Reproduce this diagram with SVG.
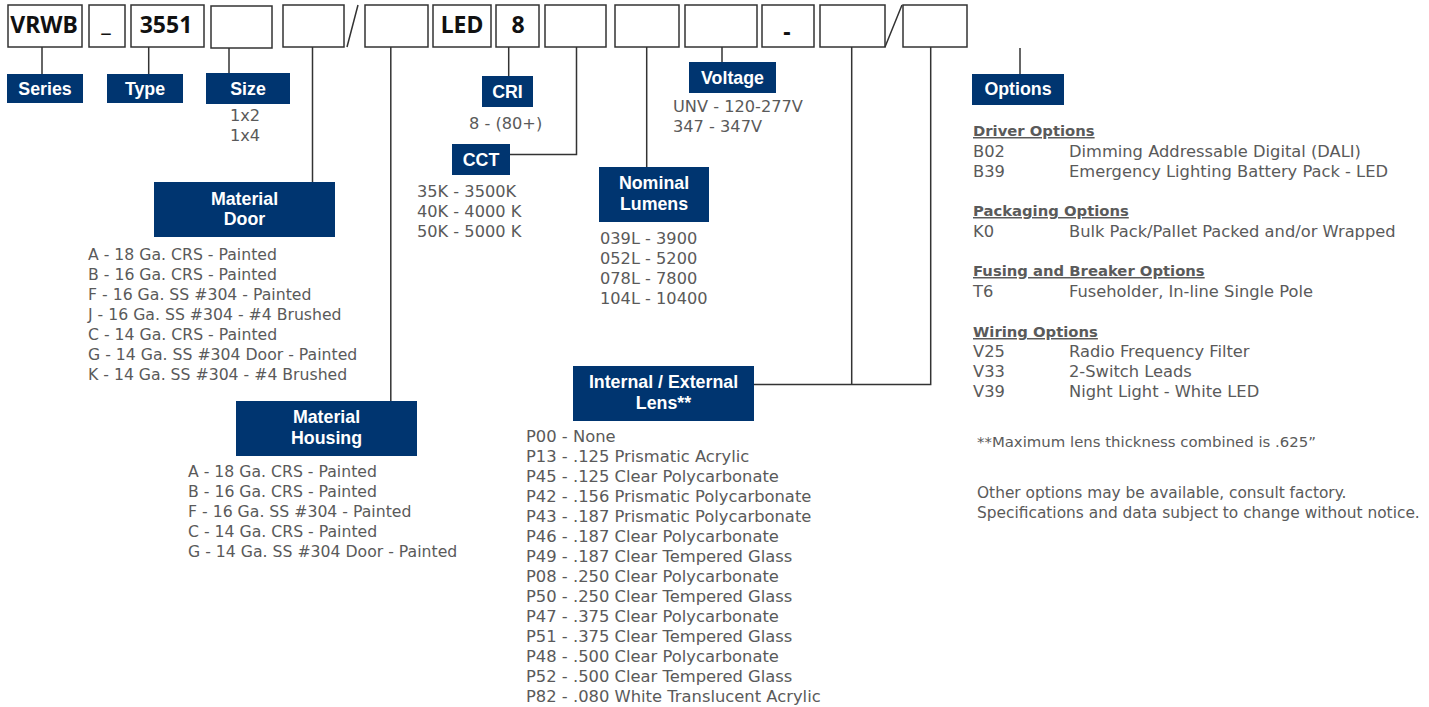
<svg xmlns="http://www.w3.org/2000/svg" width="1429" height="707" viewBox="0 0 1429 707">
<style>
.code{fill:#fff;stroke:#333;stroke-width:1.5}
.ct{font-family:"Noto Sans","DejaVu Sans",sans-serif;font-weight:bold;font-size:23px;fill:#111;text-anchor:middle}
.lab{fill:#003570}
.lt{font-family:"Liberation Sans",Arial,sans-serif;font-weight:bold;font-size:17.8px;fill:#fff;text-anchor:middle}
.li{font-family:"DejaVu Sans",sans-serif;font-size:15.7px;fill:#5a5a5a}
.ln{font-family:"DejaVu Sans",sans-serif;font-size:16.2px;fill:#5a5a5a}
.lz{font-family:"DejaVu Sans",sans-serif;font-size:16.35px;fill:#5a5a5a}
.op{font-family:"DejaVu Sans",sans-serif;font-size:16.3px;fill:#5a5a5a}
.oh{font-family:"DejaVu Sans",sans-serif;font-size:14.8px;font-weight:bold;fill:#5a5a5a;text-decoration:underline}
.fn{font-family:"DejaVu Sans",sans-serif;font-size:14.9px;fill:#5a5a5a}
.fm{font-family:"DejaVu Sans",sans-serif;font-size:15.4px;fill:#5a5a5a}
.cn{fill:none;stroke:#333;stroke-width:1.5}
</style>
<rect width="1429" height="707" fill="#fff"/>
<g id="code-boxes">
<rect class="code" x="8" y="5" width="74" height="42"/><text class="ct" x="44" y="33">VRWB</text>
<rect class="code" x="89" y="5" width="36" height="42"/><text class="ct" x="106" y="31">_</text>
<rect class="code" x="131" y="5" width="73" height="42"/><text class="ct" x="166" y="33">3551</text>
<rect class="code" x="211" y="6" width="61" height="42"/>
<rect class="code" x="283" y="5" width="61" height="42"/>
<rect class="code" x="365" y="5" width="63" height="42"/>
<rect class="code" x="433" y="5" width="58" height="42"/><text class="ct" x="462" y="33">LED</text>
<rect class="code" x="496" y="5" width="43" height="42"/><text class="ct" x="518" y="33">8</text>
<rect class="code" x="762" y="5" width="52" height="42"/><text class="ct" x="787" y="40">-</text>
<rect class="code" x="545" y="5" width="61" height="42"/>
<rect class="code" x="615" y="5" width="64" height="42"/>
<rect class="code" x="685" y="5" width="72" height="42"/>
<rect class="code" x="820" y="5" width="65" height="42"/>
<rect class="code" x="903" y="5" width="64" height="42"/>
<path class="cn" d="M347,47 L358,5 M885,47 L902,5"/>
</g>
<g id="connectors">
<path class="cn" d="M42,47 V74"/>
<path class="cn" d="M148.7,47 V74"/>
<path class="cn" d="M229,48 V73"/>
<path class="cn" d="M312.5,47 V182"/>
<path class="cn" d="M390.8,47 V401"/>
<path class="cn" d="M508.7,47 V76"/>
<path class="cn" d="M576.5,47 V154.5 H510"/>
<path class="cn" d="M646.7,47 V167"/>
<path class="cn" d="M722,47 V62"/>
<path class="cn" d="M851.7,47 V384.5"/>
<path class="cn" d="M930.7,47 V384.5 H754"/>
<path class="cn" d="M1020,48 V74"/>
</g>
<g id="series"><rect class="lab" x="7" y="74" width="76" height="29"/><text class="lt" x="45" y="95">Series</text></g>
<g id="type"><rect class="lab" x="107" y="74" width="76" height="29"/><text class="lt" x="145" y="95">Type</text></g>
<g id="size"><rect class="lab" x="206" y="73" width="84" height="31"/><text class="lt" x="248" y="95">Size</text>
<text class="ln" x="245" y="121" text-anchor="middle">1x2</text><text class="ln" x="245" y="141" text-anchor="middle">1x4</text></g>
<g id="material-door"><rect class="lab" x="154" y="182" width="181" height="55"/>
<text class="lt" x="244.5" y="205">Material</text><text class="lt" x="244.5" y="225">Door</text>
<text class="li" x="88" y="260">A - 18 Ga. CRS - Painted</text>
<text class="li" x="88" y="280">B - 16 Ga. CRS - Painted</text>
<text class="li" x="88" y="300">F - 16 Ga. SS #304 - Painted</text>
<text class="li" x="88" y="320">J - 16 Ga. SS #304 - #4 Brushed</text>
<text class="li" x="88" y="340">C - 14 Ga. CRS - Painted</text>
<text class="li" x="88" y="360">G - 14 Ga. SS #304 Door - Painted</text>
<text class="li" x="88" y="380">K - 14 Ga. SS #304 - #4 Brushed</text>
</g>
<g id="material-housing"><rect class="lab" x="236" y="401" width="181" height="55"/>
<text class="lt" x="326.5" y="423">Material</text><text class="lt" x="326.5" y="444">Housing</text>
<text class="li" x="188" y="477">A - 18 Ga. CRS - Painted</text>
<text class="li" x="188" y="497">B - 16 Ga. CRS - Painted</text>
<text class="li" x="188" y="517">F - 16 Ga. SS #304 - Painted</text>
<text class="li" x="188" y="537">C - 14 Ga. CRS - Painted</text>
<text class="li" x="188" y="557">G - 14 Ga. SS #304 Door - Painted</text>
</g>
<g id="cri"><rect class="lab" x="482" y="76" width="51" height="31"/><text class="lt" x="507.5" y="98">CRI</text>
<text class="ln" x="469" y="129">8 - (80+)</text></g>
<g id="cct"><rect class="lab" x="452" y="144" width="58" height="31"/><text class="lt" x="481" y="166">CCT</text>
<text class="ln" x="417" y="197">35K - 3500K</text>
<text class="ln" x="417" y="217">40K - 4000 K</text>
<text class="ln" x="417" y="237">50K - 5000 K</text></g>
<g id="voltage"><rect class="lab" x="689" y="62" width="87" height="31"/><text class="lt" x="732.5" y="84">Voltage</text>
<text class="ln" x="673" y="112">UNV - 120-277V</text>
<text class="ln" x="673" y="132">347 - 347V</text></g>
<g id="nominal-lumens"><rect class="lab" x="599" y="167" width="110" height="55"/>
<text class="lt" x="654" y="189">Nominal</text><text class="lt" x="654" y="210">Lumens</text>
<text class="ln" x="600" y="244">039L - 3900</text>
<text class="ln" x="600" y="264">052L - 5200</text>
<text class="ln" x="600" y="284">078L - 7800</text>
<text class="ln" x="600" y="304">104L - 10400</text></g>
<g id="lens"><rect class="lab" x="573" y="366" width="181" height="55"/>
<text class="lt" x="663.5" y="388">Internal / External</text><text class="lt" x="663.5" y="409">Lens**</text>
<text class="lz" x="526" y="442">P00 - None</text>
<text class="lz" x="526" y="462">P13 - .125 Prismatic Acrylic</text>
<text class="lz" x="526" y="482">P45 - .125 Clear Polycarbonate</text>
<text class="lz" x="526" y="502">P42 - .156 Prismatic Polycarbonate</text>
<text class="lz" x="526" y="522">P43 - .187 Prismatic Polycarbonate</text>
<text class="lz" x="526" y="542">P46 - .187 Clear Polycarbonate</text>
<text class="lz" x="526" y="562">P49 - .187 Clear Tempered Glass</text>
<text class="lz" x="526" y="582">P08 - .250 Clear Polycarbonate</text>
<text class="lz" x="526" y="602">P50 - .250 Clear Tempered Glass</text>
<text class="lz" x="526" y="622">P47 - .375 Clear Polycarbonate</text>
<text class="lz" x="526" y="642">P51 - .375 Clear Tempered Glass</text>
<text class="lz" x="526" y="662">P48 - .500 Clear Polycarbonate</text>
<text class="lz" x="526" y="682">P52 - .500 Clear Tempered Glass</text>
<text class="lz" x="526" y="702">P82 - .080 White Translucent Acrylic</text>
</g>
<g id="options"><rect class="lab" x="972" y="74" width="92" height="31"/><text class="lt" x="1018" y="95">Options</text>
<text class="oh" x="973" y="136">Driver Options</text>
<text class="op" x="973" y="157">B02</text><text class="op" x="1069" y="157">Dimming Addressable Digital (DALI)</text>
<text class="op" x="973" y="177">B39</text><text class="op" x="1069" y="177">Emergency Lighting Battery Pack - LED</text>
<text class="oh" x="973" y="216">Packaging Options</text>
<text class="op" x="973" y="237">K0</text><text class="op" x="1069" y="237">Bulk Pack/Pallet Packed and/or Wrapped</text>
<text class="oh" x="973" y="276">Fusing and Breaker Options</text>
<text class="op" x="973" y="297">T6</text><text class="op" x="1069" y="297">Fuseholder, In-line Single Pole</text>
<text class="oh" x="973" y="337">Wiring Options</text>
<text class="op" x="973" y="357">V25</text><text class="op" x="1069" y="357">Radio Frequency Filter</text>
<text class="op" x="973" y="377">V33</text><text class="op" x="1069" y="377">2-Switch Leads</text>
<text class="op" x="973" y="397">V39</text><text class="op" x="1069" y="397">Night Light - White LED</text>
<text class="fn" x="977" y="447">**Maximum lens thickness combined is .625”</text>
<text class="fm" x="977" y="498">Other options may be available, consult factory.</text>
<text class="fm" x="977" y="518">Specifications and data subject to change without notice.</text>
</g>
</svg>
